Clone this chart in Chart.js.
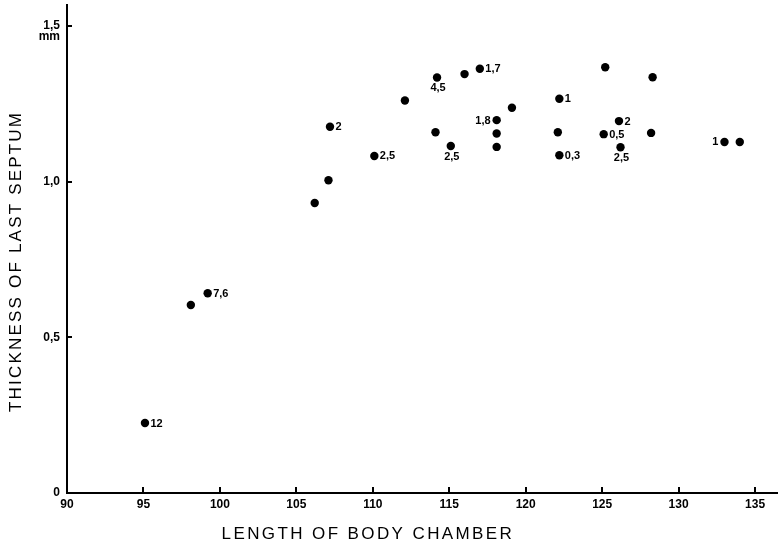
<!DOCTYPE html>
<html>
<head>
<meta charset="utf-8">
<script src="https://cdn.jsdelivr.net/npm/chart.js@4.4.1/dist/chart.umd.min.js"></script>
<style>
  html, body { margin: 0; padding: 0; background: #fff; }
  #wrap { width: 778px; height: 548px; }
</style>
</head>
<body>
<div id="wrap"><canvas id="chart" width="778" height="548"></canvas></div>
<script>
// Body-chamber length vs. thickness of the last septum, one dot per specimen.
const chamberLength = [
  95.1, 98.1, 99.2, 106.2, 107.1, 107.2, 110.1, 112.1, 114.1, 114.2,
  115.1, 116.0, 117.0, 118.1, 118.1, 118.1, 119.1, 122.2, 122.1, 122.2,
  125.2, 125.1, 126.1, 126.2, 128.3, 128.2, 133.0, 134.0
];
const septumThickness = [
  0.225, 0.604, 0.642, 0.932, 1.005, 1.177, 1.083, 1.261, 1.159, 1.335,
  1.115, 1.346, 1.363, 1.198, 1.155, 1.112, 1.238, 1.267, 1.159, 1.085,
  1.368, 1.153, 1.195, 1.111, 1.336, 1.157, 1.128, 1.128
];
// Figures printed beside some of the dots
const specimenNotes = [
  '12', '', '7,6', '', '', '2', '2,5', '', '', '4,5',
  '2,5', '', '1,7', '1,8', '', '', '', '1', '', '0,3',
  '', '0,5', '2', '2,5', '', '', '1', ''
];
// Which side of its dot each note is written on
const notePlacement = [
  'right', '', 'right', '', '', 'right', 'right', '', '', 'below',
  'below', '', 'right', 'left', '', '', '', 'right', '', 'right',
  '', 'right', 'right', 'below', '', '', 'left', ''
];

const xTickValues = [90, 95, 100, 105, 110, 115, 120, 125, 130, 135];
const xTickLabels = ['90', '95', '100', '105', '110', '115', '120', '125', '130', '135'];
const yTickValues = [0, 0.5, 1.0, 1.5];
const yTickLabels = ['0', '0,5', '1,0', '1,5'];
const yUnit = 'mm';
const xTitle = 'LENGTH OF BODY CHAMBER';
const yTitle = 'THICKNESS OF LAST SEPTUM';

const FONT = "'Liberation Sans', Arial, Helvetica, sans-serif";

// Keep each axis to a fixed band so the plot area is stable
function fixBand(prop, size) {
  return s => {
    s[prop] = size;
    s.paddingTop = 0; s.paddingBottom = 0; s.paddingLeft = 0; s.paddingRight = 0;
  };
}

// Axis captions, the unit under the top y label, and the specimen notes
const annotations = {
  id: 'annotations',
  afterDatasetsDraw(chart) {
    const ctx = chart.ctx;
    const xs = chart.scales.x, ys = chart.scales.y;
    ctx.save();
    ctx.fillStyle = '#000';

    // notes beside dots
    ctx.font = 'bold 11px ' + FONT;
    const pts = chart.getDatasetMeta(0).data;
    specimenNotes.forEach((note, i) => {
      if (!note) return;
      const p = pts[i];
      const side = notePlacement[i];
      if (side === 'right') {
        ctx.textAlign = 'left'; ctx.textBaseline = 'middle';
        ctx.fillText(note, p.x + 5.5, p.y + 0.5);
      } else if (side === 'left') {
        ctx.textAlign = 'right'; ctx.textBaseline = 'middle';
        ctx.fillText(note, p.x - 6, p.y + 0.5);
      } else {
        ctx.textAlign = 'center'; ctx.textBaseline = 'top';
        ctx.fillText(note, p.x + 1, p.y + 5);
      }
    });

    // unit under the topmost y tick label
    ctx.font = 'bold 12px ' + FONT;
    ctx.textAlign = 'right'; ctx.textBaseline = 'middle';
    ctx.fillText(yUnit, xs.left - 7, ys.getPixelForValue(1.5) + 10.5);

    // axis captions, widely letter-spaced
    ctx.font = '17px ' + FONT;
    ctx.textBaseline = 'middle';
    ctx.textAlign = 'left';

    ctx.letterSpacing = '2.4px';
    let w = ctx.measureText(xTitle).width - 2.4;
    ctx.fillText(xTitle, 366.7 - w / 2, 534);

    ctx.letterSpacing = '2.2px';
    w = ctx.measureText(yTitle).width - 2.2;
    ctx.translate(16.5, 262.5);
    ctx.rotate(-Math.PI / 2);
    ctx.fillText(yTitle, -w / 2, 0);

    ctx.restore();
  }
};

new Chart(document.getElementById('chart'), {
  type: 'scatter',
  data: {
    datasets: [{
      data: chamberLength.map((x, i) => ({ x, y: septumThickness[i] })),
      backgroundColor: '#000',
      borderColor: '#000',
      borderWidth: 0,
      pointRadius: 4.2,
      pointHoverRadius: 4.2
    }]
  },
  options: {
    responsive: false,
    animation: false,
    devicePixelRatio: 1,
    layout: { autoPadding: false, padding: { top: 5, right: 0, bottom: 0, left: 0 } },
    plugins: { legend: { display: false }, tooltip: { enabled: false } },
    events: [],
    scales: {
      x: {
        type: 'linear',
        min: 90,
        max: 136.5,
        afterBuildTicks: s => { s.ticks = xTickValues.map(v => ({ value: v })); },
        afterFit: fixBand('height', 55),
        border: { display: true, color: '#000', width: 2 },
        grid: { drawOnChartArea: false, drawTicks: true, tickLength: -6, color: '#000', lineWidth: 2 },
        ticks: {
          color: '#000',
          padding: 10,
          maxRotation: 0,
          autoSkip: false,
          font: { family: FONT, size: 12, weight: 'bold' },
          callback: v => xTickLabels[xTickValues.indexOf(v)]
        }
      },
      y: {
        type: 'linear',
        min: 0,
        max: 1.568,
        afterBuildTicks: s => { s.ticks = yTickValues.map(v => ({ value: v })); },
        afterFit: fixBand('width', 67),
        border: { display: true, color: '#000', width: 2 },
        grid: { drawOnChartArea: false, drawTicks: true, tickLength: -5, color: '#000', lineWidth: 2 },
        ticks: {
          color: '#000',
          padding: 12,
          autoSkip: false,
          font: { family: FONT, size: 12, weight: 'bold' },
          callback: v => yTickLabels[yTickValues.indexOf(v)]
        }
      }
    }
  },
  plugins: [annotations]
});
</script>
</body>
</html>
